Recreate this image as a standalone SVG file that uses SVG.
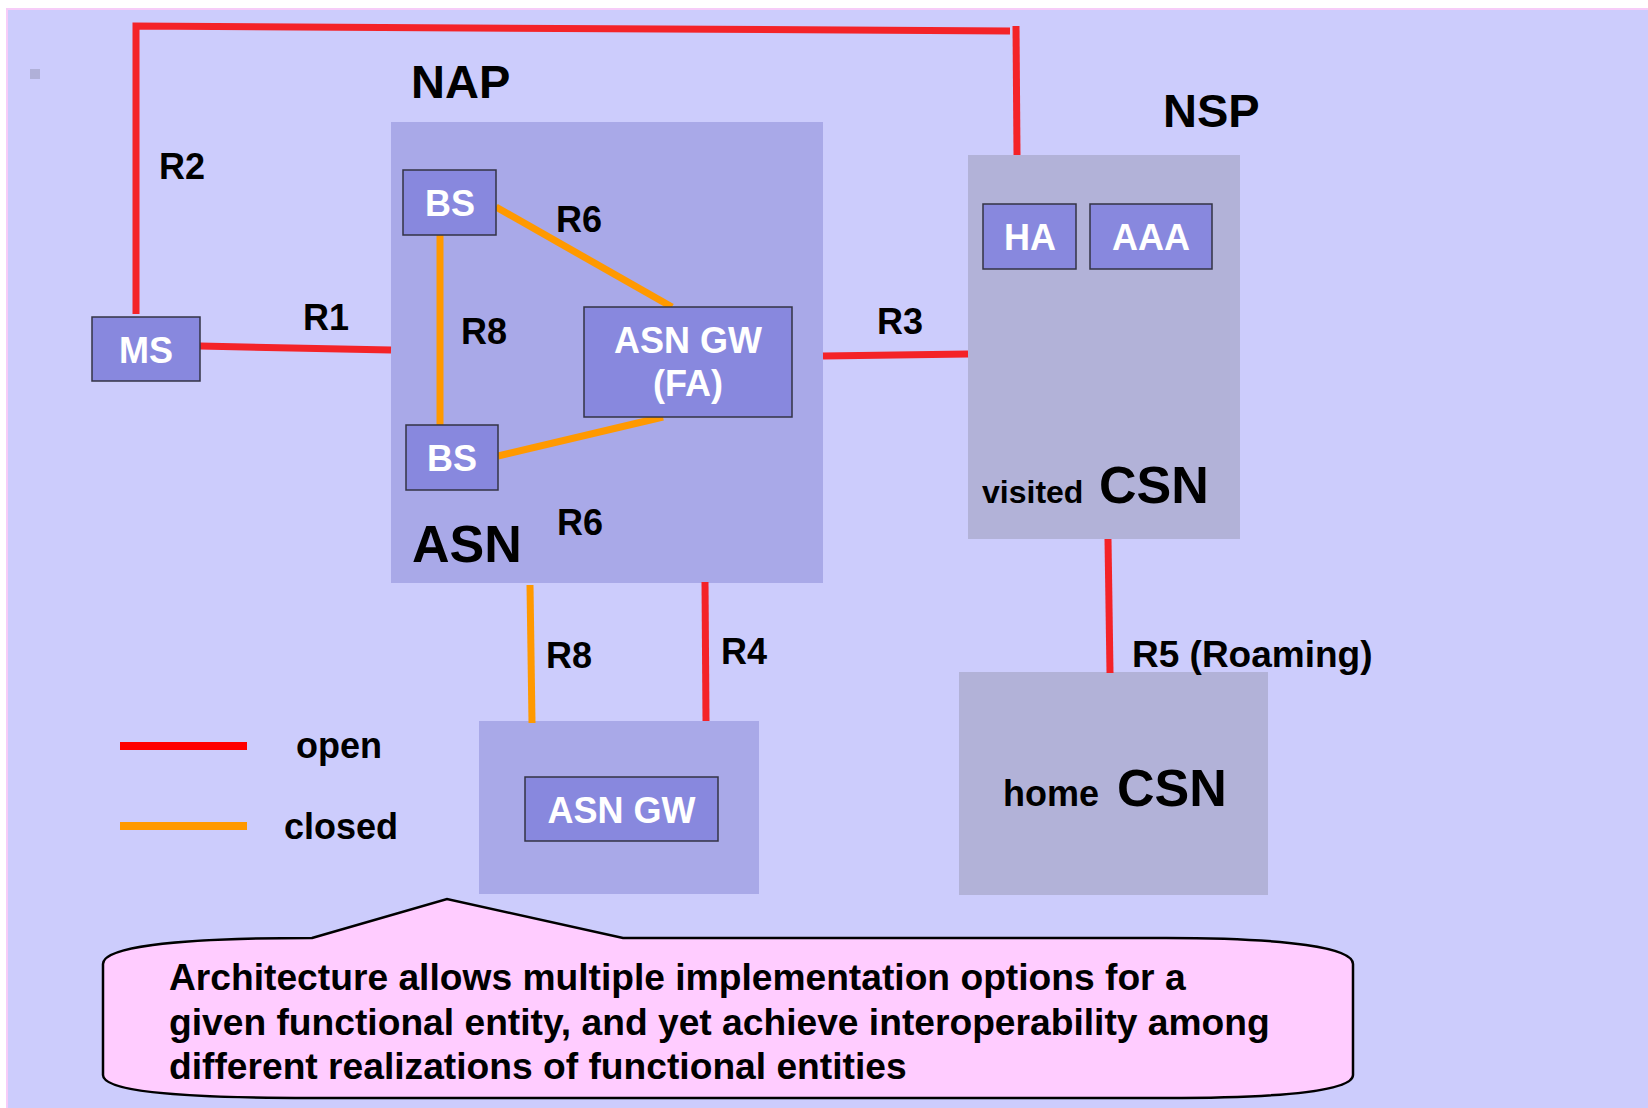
<svg xmlns="http://www.w3.org/2000/svg" width="1648" height="1108" viewBox="0 0 1648 1108">
<style>
.t{font-family:"Liberation Sans",Arial,sans-serif;font-weight:bold;fill:#000}
.w{font-family:"Liberation Sans",Arial,sans-serif;font-weight:bold;fill:#fff;text-anchor:middle;font-size:36px}
.lbl{font-size:36px}
.node{fill:#8888DE;stroke:#333344;stroke-width:1.5}
.grp{fill:#A9A9E8}
.csn{fill:#B2B2D8}
.red{stroke:#F42328;stroke-width:7;fill:none}
.org{stroke:#FF9900;stroke-width:7;fill:none}
</style>
<rect x="7" y="9" width="1650" height="1110" fill="#CCCCFC" stroke="#F6CCF8" stroke-width="2"/>
<rect x="30" y="69" width="10" height="10" fill="#B0B0D8"/>

<g id="asn-area">
<rect class="grp" x="391" y="122" width="432" height="461"/>
</g>
<g id="visited-csn-area">
<rect class="csn" x="968" y="155" width="272" height="384"/>
</g>
<g id="lower-asn-area">
<rect class="grp" x="479" y="721" width="280" height="173"/>
</g>
<g id="home-csn">
<rect class="csn" x="959" y="672" width="309" height="223"/>
<text class="t" x="1003" y="806" font-size="36">home</text>
<text class="t" x="1117" y="806" font-size="52">CSN</text>
</g>

<g id="connectors">
<polyline class="red" points="136,314 136,26 1010,31"/>
<line class="red" x1="1016" y1="26" x2="1017" y2="155"/>
<line class="red" x1="200" y1="346" x2="391" y2="350"/>
<line class="red" x1="823" y1="356" x2="968" y2="354"/>
<line class="red" x1="1108" y1="539" x2="1110" y2="673"/>
<line class="red" x1="705" y1="582" x2="706" y2="721" stroke="#FF0000"/>
<line class="org" x1="530" y1="585" x2="532" y2="723"/>
<line class="org" x1="440" y1="235" x2="440" y2="425"/>
<line class="org" x1="496" y1="207" x2="672" y2="307"/>
<line class="org" x1="498" y1="456" x2="663" y2="417" stroke-width="8.5"/>
</g>

<g id="labels">
<text class="t" x="411" y="98" font-size="47">NAP</text>
<text class="t" x="1163" y="127" font-size="47">NSP</text>
<text class="t" x="412" y="562" font-size="52">ASN</text>
<text class="t lbl" x="159" y="179">R2</text>
<text class="t lbl" x="303" y="330">R1</text>
<text class="t lbl" x="461" y="344">R8</text>
<text class="t lbl" x="556" y="232">R6</text>
<text class="t lbl" x="557" y="535">R6</text>
<text class="t lbl" x="877" y="334">R3</text>
<text class="t lbl" x="546" y="668">R8</text>
<text class="t lbl" x="721" y="664">R4</text>
<text class="t" x="1132" y="667" font-size="37">R5 (Roaming)</text>
<text class="t" x="982" y="503" font-size="32">visited</text>
<text class="t" x="1099" y="503" font-size="52">CSN</text>
</g>

<g id="ms">
<rect class="node" x="92" y="317" width="108" height="64"/>
<text class="w" x="146" y="363">MS</text>
</g>
<g id="bs1">
<rect class="node" x="403" y="170" width="93" height="65"/>
<text class="w" x="450" y="216">BS</text>
</g>
<g id="bs2">
<rect class="node" x="406" y="425" width="92" height="65"/>
<text class="w" x="452" y="471">BS</text>
</g>
<g id="asn-gw-fa">
<rect class="node" x="584" y="307" width="208" height="110"/>
<text class="w" x="688" y="353">ASN GW</text>
<text class="w" x="688" y="396">(FA)</text>
</g>
<g id="ha">
<rect class="node" x="983" y="204" width="93" height="65"/>
<text class="w" x="1030" y="250">HA</text>
</g>
<g id="aaa">
<rect class="node" x="1090" y="204" width="122" height="65"/>
<text class="w" x="1151" y="250">AAA</text>
</g>
<g id="asn-gw">
<rect class="node" x="525" y="777" width="193" height="64"/>
<text class="w" x="621.5" y="823">ASN GW</text>
</g>

<g id="legend">
<line x1="120" y1="746" x2="247" y2="746" stroke="#FF0000" stroke-width="8"/>
<text class="t lbl" x="296" y="758">open</text>
<line x1="120" y1="826" x2="247" y2="826" stroke="#FF9900" stroke-width="8"/>
<text class="t lbl" x="284" y="839">closed</text>
</g>

<g id="callout">
<path d="M312,938 L447,899 L623,938 L1166,938 C1290,938 1353,948 1353,964 L1353,1075 C1353,1090 1290,1098 1166,1098 L310,1098 C166,1098 103,1090 103,1075 L103,964 C103,948 166,938 312,938 Z" fill="#FFCCFF" stroke="#000" stroke-width="2.5"/>
<text class="t" x="169" y="990" font-size="37.2">Architecture allows multiple implementation options for a</text>
<text class="t" x="169" y="1035" font-size="37.2">given functional entity, and yet achieve interoperability among</text>
<text class="t" x="169" y="1079" font-size="37.2">different realizations of functional entities</text>
</g>
</svg>
